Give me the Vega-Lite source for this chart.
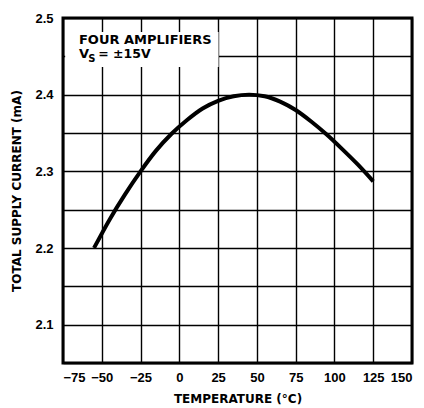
{
  "$schema": "https://vega.github.io/schema/vega-lite/v6.json",
  "width": 349,
  "height": 345,
  "autosize": "none",
  "padding": {"left": 63, "top": 18, "right": 12, "bottom": 45},
  "background": "white",
  "config": {
    "view": {"stroke": "black", "strokeWidth": 3},
    "font": "Liberation Sans",
    "axis": {
      "grid": true, "gridColor": "black", "gridWidth": 1.4, "gridOpacity": 1,
      "domain": false, "ticks": false, "tickCount": 30, "labelOverlap": false,
      "labelFont": "Liberation Sans", "labelFontSize": 13, "labelFontWeight": "bold", "labelColor": "black",
      "titleFont": "DejaVu Sans", "titleFontSize": 12, "titleFontWeight": "bold", "titleColor": "black"
    }
  },
  "datasets": {
    "curve": [
      {"t": -55, "i": 2.2},
      {"t": -45, "i": 2.237},
      {"t": -35, "i": 2.27},
      {"t": -25, "i": 2.3},
      {"t": -15, "i": 2.327},
      {"t": -5, "i": 2.349},
      {"t": 5, "i": 2.367},
      {"t": 15, "i": 2.382},
      {"t": 25, "i": 2.392},
      {"t": 35, "i": 2.398},
      {"t": 45, "i": 2.4},
      {"t": 55, "i": 2.398},
      {"t": 65, "i": 2.391},
      {"t": 75, "i": 2.38},
      {"t": 85, "i": 2.365},
      {"t": 95, "i": 2.348},
      {"t": 105, "i": 2.329},
      {"t": 115, "i": 2.309},
      {"t": 125, "i": 2.287}
    ],
    "box": [{"x1": -73.6, "x2": 25.3, "y1": 2.436, "y2": 2.4817}],
    "notes": [
      {"x": -64.7, "y": 2.4713, "label": "FOUR AMPLIFIERS", "size": 13},
      {"x": -64.7, "y": 2.453, "label": "V", "size": 13},
      {"x": -58.8, "y": 2.4462, "label": "S", "size": 10},
      {"x": -52.3, "y": 2.453, "label": "= ±15V", "size": 12.5}
    ]
  },
  "layer": [
    {
      "data": {"name": "curve"},
      "mark": {"type": "line", "color": "black", "strokeWidth": 4, "interpolate": "monotone", "strokeCap": "butt"},
      "encoding": {
        "x": {"field": "t", "type": "quantitative", "scale": {"domain": [-75, 150], "nice": false, "zero": false},
          "axis": {"values": [-75, -50, -25, 0, 25, 50, 75, 100, 125, 150], "title": "TEMPERATURE (°C)", "labelPadding": 8, "titlePadding": 9}},
        "y": {"field": "i", "type": "quantitative", "scale": {"domain": [2.05, 2.5], "nice": false, "zero": false},
          "axis": {"values": [2.05, 2.1, 2.15, 2.2, 2.25, 2.3, 2.35, 2.4, 2.45, 2.5],
            "labelExpr": "abs(datum.value*10 - round(datum.value*10)) < 0.01 ? format(datum.value, '.1f') : ''",
            "title": "TOTAL SUPPLY CURRENT (mA)", "labelPadding": 10, "titlePadding": 11}}
      }
    },
    {
      "data": {"name": "box"},
      "mark": {"type": "rect", "fill": "white"},
      "encoding": {
        "x": {"field": "x1", "type": "quantitative"},
        "x2": {"field": "x2"},
        "y": {"field": "y1", "type": "quantitative"},
        "y2": {"field": "y2"}
      }
    },
    {
      "data": {"name": "notes"},
      "mark": {"type": "text", "align": "left", "baseline": "middle", "color": "black", "font": "DejaVu Sans", "fontWeight": "bold"},
      "encoding": {
        "x": {"field": "x", "type": "quantitative"},
        "y": {"field": "y", "type": "quantitative"},
        "text": {"field": "label"},
        "size": {"field": "size", "type": "quantitative", "scale": null}
      }
    }
  ]
}
